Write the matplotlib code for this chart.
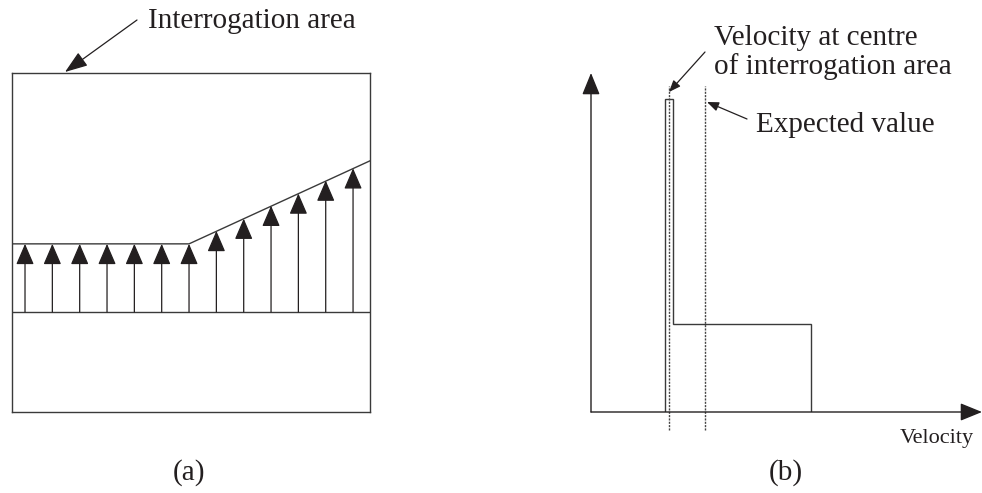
import matplotlib.pyplot as plt

W, H = 982, 493
INK = "#231f20"
LINE = "#3a3a3a"
FONT = ["Liberation Serif", "DejaVu Serif"]

# (a) velocity vectors inside the interrogation area
arrow_pos = [1, 2, 3, 4, 5, 6, 7, 8, 9, 10, 11, 12, 13]
arrow_u = [1.0, 1.0, 1.0, 1.0, 1.0, 1.0, 1.0, 1.19, 1.37, 1.56, 1.74, 1.93, 2.11]
profile_x = [0.524, 7, 13.62]
profile_u = [1.0, 1.0, 2.22]

# (b) velocity histogram
bin_edges = [0.74, 0.82, 2.20]
bin_counts = [3.55, 1.0]
centre_velocity = 0.78
expected_velocity = 1.14


def px(x, y):
    # pixel position measured from the top-left corner
    return (x, H - y)


plt.rcParams["font.family"] = FONT
fig = plt.figure(figsize=(W / 100, H / 100), dpi=100)

# ---- panel (a)
ax_a = fig.add_axes([12 / W, (H - 412) / H, 358 / W, 339 / H])
ax_a.set_xlim(profile_x[0], profile_x[-1])
ax_a.set_ylim(-1.47, 3.51)
ax_a.set_xticks([])
ax_a.set_yticks([])
for s in ax_a.spines.values():
    s.set_color(LINE)
    s.set_linewidth(1.0)

ax_a.axhline(0, color=LINE, lw=1.0)
ax_a.plot(profile_x, profile_u, color=LINE, lw=1.0)
for x, u in zip(arrow_pos, arrow_u):
    ax_a.annotate("", xy=(x, u), xytext=(x, 0),
                  arrowprops=dict(arrowstyle="-|>,head_length=1.3,head_width=0.56",
                                  mutation_scale=10, color=INK, lw=0.9,
                                  shrinkA=0, shrinkB=0))

fig.text(148 / W, 1 - 28.5 / H, "Interrogation area", fontsize=21,
         color=INK, va="baseline", ha="left")
fig.add_artist(plt.Annotation(
    "", xy=px(65, 72), xytext=px(137, 20), xycoords="figure pixels",
    textcoords="figure pixels",
    arrowprops=dict(arrowstyle="-|>,head_length=1.4,head_width=0.5",
                    mutation_scale=10, color=INK, lw=0.9,
                    shrinkA=0, shrinkB=0)))
fig.text(189 / W, 1 - 480 / H, "(a)", fontsize=21, color=INK,
         ha="center", va="baseline")

# ---- panel (b)
ax_b = fig.add_axes([591 / W, (H - 412) / H, 391 / W, 339 / H])
ax_b.set_xlim(0, 3.91)
ax_b.set_ylim(0, 3.85)
ax_b.axis("off")

ax_b.stairs(bin_counts, bin_edges, baseline=0, color=LINE, lw=1.0)
for v in (centre_velocity, expected_velocity):
    ax_b.plot([v, v], [-0.205, 3.70], color="#444444", lw=1.0,
              ls=(0, (1.5, 0.9)), clip_on=False)

axis_style = dict(arrowstyle="-|>,head_length=1.35,head_width=0.55",
                  mutation_scale=10, color=INK, lw=1.0, shrinkA=0, shrinkB=0)
ax_b.annotate("", xy=(1, 0), xytext=(0, 0), xycoords="axes fraction",
              arrowprops=axis_style)
ax_b.annotate("", xy=(0, 1), xytext=(0, 0), xycoords="axes fraction",
              arrowprops=axis_style)

leader = dict(arrowstyle="-|>,head_length=0.7,head_width=0.28",
              mutation_scale=10, color=INK, lw=0.9, shrinkA=0, shrinkB=0)
fig.add_artist(plt.Annotation("", xy=px(669, 92), xytext=px(705, 52),
                              xycoords="figure pixels",
                              textcoords="figure pixels", arrowprops=leader))
fig.add_artist(plt.Annotation("", xy=px(707, 102), xytext=px(747, 119),
                              xycoords="figure pixels",
                              textcoords="figure pixels", arrowprops=leader))

fig.text(714 / W, 1 - 45 / H, "Velocity at centre", fontsize=21, color=INK,
         va="baseline", ha="left")
fig.text(714 / W, 1 - 74 / H, "of interrogation area", fontsize=21,
         color=INK, va="baseline", ha="left")
fig.text(756 / W, 1 - 132 / H, "Expected value", fontsize=21, color=INK,
         va="baseline", ha="left")
fig.text(900 / W, 1 - 443 / H, "Velocity", fontsize=16, color=INK,
         va="baseline", ha="left")
fig.text(786 / W, 1 - 480 / H, "(b)", fontsize=21, color=INK,
         ha="center", va="baseline")

fig.savefig("out.png", dpi=100, facecolor="white")
